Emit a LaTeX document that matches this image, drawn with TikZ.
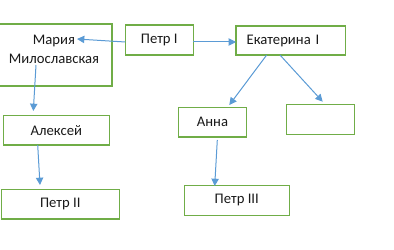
\documentclass[tikz,border=0pt]{standalone}
\usepackage{fontspec}
\setmainfont{Carlito}
\usetikzlibrary{arrows.meta}
\definecolor{boxgreen}{HTML}{70AD47}
\definecolor{arrowblue}{HTML}{5B9BD5}
\begin{document}
\begin{tikzpicture}[x=0.75pt,y=-0.75pt,
  box/.style={draw=boxgreen, line width=1pt, inner sep=0pt, font=\fontsize{11}{14.3}\selectfont, text=black!90},
  txt/.style={inner sep=0pt, font=\fontsize{11}{14.3}\selectfont, text=black!90, align=center},
  conn/.style={draw=arrowblue, line width=0.75pt, -{Triangle[length=5.5pt,width=5.5pt]}}]
\useasboundingbox (0,0) rectangle (394,250);
% boxes
\node[box, minimum width=87pt, minimum height=46.3pt] (maria) at (54,55) {};
\node[txt] (mariatxt) at (54,49.5) {Мария\\Милославская};
\node[box, minimum width=51pt, minimum height=22.5pt] (p1) at (159.3,40) {Петр I};
\node[box, minimum height=21.75pt, inner xsep=8pt, text width=66pt, align=left] (ek) at (290.7,40.5) {Екатерина I};
\node[box, minimum width=51.3pt, minimum height=22.3pt] (anna) at (212.5,122.2) {Анна};
\node[box, minimum width=51pt, minimum height=22.5pt] (empty) at (320.3,119.3) {};
\node[box, minimum width=78.75pt, minimum height=22.5pt] (p3) at (236.8,200.3) {Петр III};
\node[box, minimum width=79.5pt, minimum height=22.3pt] (al) at (56.3,130.2) {Алексей};
\node[box, minimum width=88.5pt, minimum height=22.3pt] (p2) at (60.3,204.2) {Петр II};
% connector ends
\coordinate (a1s) at (125.3,42);  \coordinate (a1e) at (77,39);
\coordinate (a2s) at (193.3,42);  \coordinate (a2e) at (236,42);
\coordinate (a3s) at (36,65);     \coordinate (a3e) at (33.3,111);
\coordinate (a4s) at (37.7,145);  \coordinate (a4e) at (40,185);
\coordinate (a5s) at (266.7,55);  \coordinate (a5e) at (229.3,105);
\coordinate (a6s) at (280,55);    \coordinate (a6e) at (322.7,101.7);
\coordinate (a7s) at (217.3,140); \coordinate (a7e) at (214.7,186);
\draw[conn] (a1s) -- (a1e);
\draw[conn] (a2s) -- (a2e);
\draw[conn] (a3s) -- (a3e);
\draw[conn] (a4s) -- (a4e);
\draw[conn] (a5s) -- (a5e);
\draw[conn] (a6s) -- (a6e);
\draw[conn] (a7s) -- (a7e);
\end{tikzpicture}
\end{document}
